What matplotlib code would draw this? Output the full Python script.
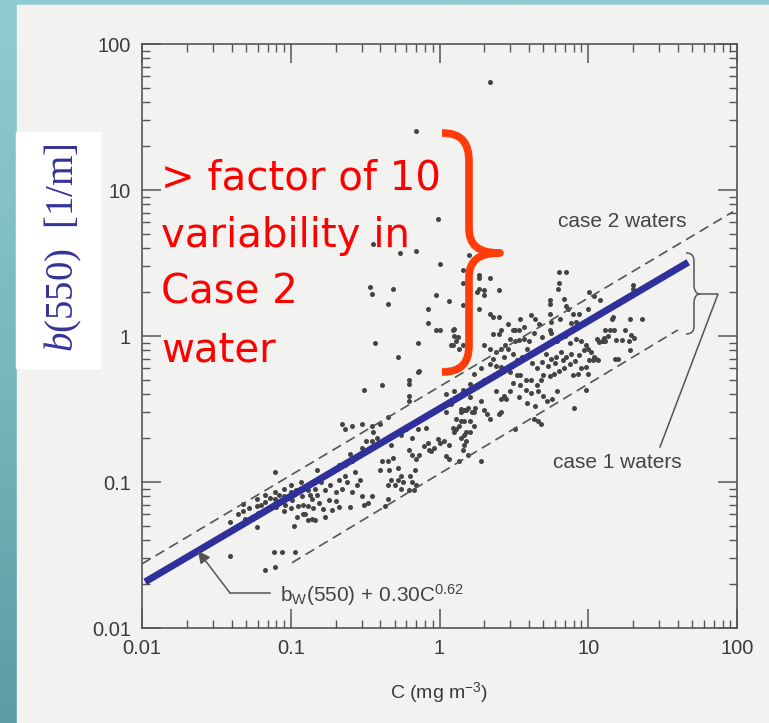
import numpy as np
import matplotlib
matplotlib.use("Agg")
import matplotlib.pyplot as plt
from matplotlib.path import Path
from matplotlib.patches import PathPatch, Rectangle
from matplotlib.colors import LinearSegmentedColormap
from matplotlib.ticker import LogLocator, NullFormatter

plt.rcParams['font.family'] = 'Liberation Sans'
plt.rcParams['mathtext.fontset'] = 'custom'
plt.rcParams['mathtext.it'] = 'Liberation Serif:italic'
plt.rcParams['mathtext.rm'] = 'Liberation Serif'

# ---- data: (C [mg m-3], b(550) [1/m]) ----
low_chl_pts = [
    (0.029, 0.039), (0.039, 0.031), (0.059, 0.049), (0.067, 0.025), (0.078, 0.026),
    (0.077, 0.033), (0.087, 0.033), (0.106, 0.033), (0.078, 0.117),
    (0.039, 0.053), (0.040, 0.048), (0.048, 0.071), (0.048, 0.063), (0.049, 0.056),
    (0.059, 0.076), (0.059, 0.068), (0.060, 0.061), (0.067, 0.082), (0.067, 0.073),
    (0.068, 0.064), (0.078, 0.086), (0.078, 0.076), (0.079, 0.067), (0.090, 0.089),
    (0.090, 0.080), (0.091, 0.070), (0.090, 0.063), (0.100, 0.095), (0.100, 0.085),
    (0.102, 0.075), (0.101, 0.066), (0.118, 0.100), (0.120, 0.090), (0.119, 0.080),
    (0.121, 0.070), (0.120, 0.060), (0.140, 0.076), (0.141, 0.066), (0.140, 0.056),
    (0.110, 0.058), (0.130, 0.055), (0.105, 0.050), (0.145, 0.055), (0.170, 0.058),
    (0.130, 0.069), (0.125, 0.060), (0.160, 0.100), (0.170, 0.088), (0.145, 0.090),
    (0.130, 0.088), (0.190, 0.117), (0.150, 0.082),
    (0.044, 0.060), (0.052, 0.066), (0.055, 0.058), (0.063, 0.070), (0.072, 0.078),
    (0.084, 0.082), (0.095, 0.078), (0.108, 0.088), (0.112, 0.068), (0.135, 0.082),
    (0.155, 0.072), (0.165, 0.065), (0.180, 0.075), (0.185, 0.095), (0.200, 0.085),
    (0.220, 0.090), (0.240, 0.100), (0.260, 0.085), (0.280, 0.095), (0.170, 0.110),
    (0.150, 0.120), (0.210, 0.130),
]
mid_chl_pts = [
    (0.31, 0.43), (0.41, 0.46), (0.72, 0.57), (0.62, 0.39), (0.62, 0.36),
    (0.22, 0.25), (0.23, 0.23), (0.26, 0.24), (0.30, 0.25), (0.35, 0.24),
    (0.36, 0.22), (0.40, 0.25), (0.45, 0.28), (0.38, 0.20), (0.32, 0.19),
    (0.30, 0.17), (0.35, 0.19), (0.25, 0.155), (0.26, 0.14), (0.23, 0.13),
    (0.21, 0.104), (0.23, 0.11), (0.27, 0.117), (0.29, 0.104), (0.20, 0.074),
    (0.21, 0.067), (0.19, 0.064), (0.25, 0.067), (0.30, 0.08), (0.35, 0.08),
    (0.31, 0.07), (0.33, 0.072), (0.43, 0.069), (0.45, 0.077),
    (0.41, 0.14), (0.45, 0.14), (0.49, 0.146), (0.40, 0.12), (0.46, 0.12),
    (0.53, 0.125), (0.55, 0.11), (0.63, 0.11), (0.68, 0.12), (0.47, 0.104),
    (0.53, 0.104), (0.57, 0.10), (0.65, 0.10), (0.45, 0.096), (0.50, 0.095),
    (0.55, 0.09), (0.62, 0.088), (0.70, 0.095), (0.67, 0.088),
    (0.62, 0.166), (0.65, 0.152), (0.70, 0.143), (0.73, 0.154), (0.79, 0.177),
    (0.84, 0.186), (0.85, 0.166), (0.88, 0.164), (0.92, 0.17), (0.98, 0.196),
    (1.00, 0.186), (1.07, 0.19), (1.15, 0.18), (1.15, 0.143), (1.10, 0.15),
    (0.60, 0.23), (0.72, 0.23), (0.81, 0.235), (0.65, 0.20), (0.55, 0.21),
    (0.47, 0.18),
    (1.24, 0.236), (1.30, 0.23), (1.40, 0.26), (1.45, 0.26), (1.60, 0.26),
    (1.70, 0.24), (1.50, 0.22), (1.60, 0.22), (1.45, 0.21), (1.50, 0.19),
    (1.10, 0.40), (1.26, 0.42), (1.44, 0.43), (1.60, 0.47),
    (1.40, 0.316), (1.45, 0.31), (1.55, 0.32), (1.70, 0.30), (1.72, 0.32),
    (1.35, 0.14), (1.44, 0.166), (1.55, 0.154), (1.90, 0.14),
    (1.70, 0.55), (1.90, 0.60), (1.80, 0.45), (2.00, 0.50), (1.60, 0.38),
    (1.90, 0.36), (1.10, 0.30), (1.20, 0.34),
]
high_chl_pts = [
    (2.4, 0.42), (2.7, 0.39), (2.8, 0.37), (2.6, 0.37), (3.1, 0.48), (3.5, 0.46),
    (3.8, 0.43), (4.1, 0.41), (4.6, 0.42), (5.0, 0.39), (5.3, 0.36), (5.7, 0.37),
    (6.2, 0.42), (8.0, 0.32), (2.1, 0.29), (2.2, 0.27), (2.0, 0.31), (1.65, 0.30),
    (1.5, 0.31), (1.4, 0.30), (1.3, 0.27), (1.35, 0.24), (1.26, 0.22), (1.4, 0.20),
    (1.45, 0.18), (2.5, 0.29), (2.6, 0.30), (4.3, 0.27), (4.6, 0.26), (4.8, 0.25),
    (3.2, 0.23),
    (2.2, 0.64), (2.4, 0.62), (2.6, 0.61), (2.8, 0.59), (3.0, 0.57), (3.3, 0.54),
    (3.5, 0.54), (3.8, 0.50), (4.1, 0.50), (4.5, 0.46), (4.8, 0.50), (5.0, 0.54),
    (5.5, 0.53), (5.9, 0.55), (6.4, 0.58), (6.9, 0.60), (7.9, 0.54), (8.5, 0.55),
    (8.9, 0.60), (9.6, 0.61),
    (2.0, 0.87), (2.2, 0.82), (2.4, 0.78), (2.6, 0.82), (2.75, 0.87), (2.9, 0.82),
    (3.0, 0.96), (3.2, 0.92), (3.4, 0.94), (3.7, 0.96), (4.0, 0.92), (3.9, 0.82),
    (4.4, 0.78), (4.8, 0.82), (5.2, 0.75), (5.6, 0.70), (6.1, 0.72), (6.6, 0.78),
    (7.1, 0.72), (7.7, 0.75), (8.1, 0.67), (8.7, 0.74), (9.4, 0.80), (10.1, 0.69),
    (11.0, 0.72), (8.3, 0.96), (8.9, 0.92), (9.6, 0.87),
    (2.3, 0.70), (2.7, 0.72), (3.1, 0.75), (3.3, 0.68), (3.6, 0.72), (4.2, 0.65),
    (4.5, 0.60), (4.9, 0.66), (5.4, 0.62), (6.0, 0.65), (6.8, 0.68), (7.5, 0.64),
    (3.0, 0.42), (3.4, 0.38), (3.9, 0.35), (4.4, 0.33), (2.9, 1.20), (3.7, 1.15),
    (4.3, 1.05), (4.9, 0.98), (6.2, 0.92), (7.0, 1.00), (7.5, 0.90), (6.5, 1.30),
    (6.4, 2.76), (7.1, 2.76), (6.4, 2.3), (6.3, 2.1), (5.5, 1.77), (5.5, 1.65),
    (6.9, 1.8), (7.1, 1.6), (2.2, 1.42), (2.3, 1.36), (2.5, 1.36), (1.24, 1.1),
    (1.3, 0.92), (1.25, 1.0), (1.2, 0.87), (1.44, 0.87), (2.6, 1.1), (2.5, 1.03),
    (3.5, 1.3), (3.4, 1.1), (3.1, 1.1), (4.1, 1.4), (4.4, 1.3), (4.7, 1.2),
    (5.5, 1.42), (5.6, 1.25), (5.5, 1.1), (5.6, 1.05), (7.3, 1.53), (7.9, 1.42),
    (8.3, 1.25), (8.7, 1.42), (7.7, 1.22), (10.1, 2.0), (11.0, 1.87), (12.0, 1.76),
    (14.5, 1.3), (13.0, 1.1), (15.0, 1.1), (11.5, 0.96), (12.5, 0.92), (13.0, 0.93),
    (15.8, 0.70),
    (20.0, 2.24), (20.0, 2.1), (10.0, 1.52), (14.6, 1.34), (19.0, 1.3), (23.0, 1.3),
    (14.0, 1.1), (13.5, 1.0), (12.8, 0.97), (12.3, 0.93), (11.8, 0.91), (15.4, 0.94),
    (16.8, 0.94), (17.7, 1.1), (18.8, 0.93), (19.5, 1.02), (20.4, 0.97), (19.0, 0.8),
    (15.2, 0.70), (10.0, 0.82), (10.5, 0.78), (10.8, 0.69), (11.3, 0.70), (11.7, 0.68),
    (10.0, 0.55), (9.6, 0.43),
]
outlier_pts = [
    (2.2, 55.0), (0.70, 25.5), (0.98, 6.3), (0.36, 4.3), (0.54, 3.7), (0.69, 3.8),
    (1.0, 3.1), (1.57, 3.6), (1.44, 2.85), (1.44, 2.3), (1.83, 2.6), (2.2, 2.5),
    (1.8, 2.0), (2.0, 2.05), (2.5, 2.06), (0.34, 2.15), (0.35, 1.93), (0.49, 2.1),
    (0.45, 1.66), (0.94, 1.9), (1.15, 1.75), (1.44, 1.64), (0.84, 1.52), (1.85, 1.52),
    (0.84, 1.23), (0.95, 1.1), (1.0, 1.1), (1.26, 1.11), (1.34, 0.98), (2.3, 1.03),
    (3.2, 1.1), (0.37, 0.90), (0.53, 0.72), (0.72, 0.90), (0.73, 0.58), (0.62, 0.50),
    (0.62, 0.47), (1.24, 0.87), (1.35, 0.82), (1.83, 2.5), (1.85, 2.1), (2.0, 1.9),
]

model_chl = [0.0105, 47.0]      # b_w(550) + 0.30 C^0.62
model_b = [0.0207, 3.2]
case2_chl = [0.01, 94.0]        # upper dashed bound
case2_b = [0.0275, 7.1]
case1_chl = [0.102, 40.0]       # lower dashed bound
case1_b = [0.028, 1.1]

tick_vals = [0.01, 0.1, 1, 10, 100]
tick_labels = ['0.01', '0.1', '1', '10', '100']
note_lines = ['> factor of 10', 'variability in', 'Case 2', 'water']

W, H = 769, 723
fig = plt.figure(figsize=(W / 100, H / 100), dpi=100)

# background: teal slide + scanned paper
bg = fig.add_axes([0, 0, 1, 1], zorder=0)
teal = LinearSegmentedColormap.from_list('teal', ['#90ccd1', '#78b9be', '#5a9ca1'])
bg.imshow(np.linspace(0, 1, 256).reshape(-1, 1), aspect='auto', cmap=teal,
          extent=[0, W, H, 0])
bg.add_patch(Rectangle((17, 5), W - 17, H - 5, color='#f2f2f0'))
bg.add_patch(Rectangle((16, 132), 84, 236, color='white'))
bg.set_xlim(0, W)
bg.set_ylim(H, 0)
bg.axis('off')

# the chart itself
ax = fig.add_axes([142 / W, 1 - 628 / H, 595 / W, 584 / H], zorder=1)
ax.patch.set_alpha(0)
ax.set_xscale('log')
ax.set_yscale('log')

pts = np.array(low_chl_pts + mid_chl_pts + high_chl_pts + outlier_pts)
ax.scatter(pts[:, 0], pts[:, 1], s=13, color='#444444', linewidths=0, zorder=2)
ax.plot(case2_chl, case2_b, color='#555555', lw=1.2, dashes=(6, 3.5), zorder=3)
ax.plot(case1_chl, case1_b, color='#555555', lw=1.2, dashes=(6, 3.5), zorder=3)
ax.plot(model_chl, model_b, color='#30309c', lw=5, solid_capstyle='butt', zorder=4)

ax.set_xlim(0.01, 100)
ax.set_ylim(0.01, 100)
ax.set_xticks(tick_vals, tick_labels)
ax.set_yticks(tick_vals, tick_labels)
for axis in (ax.xaxis, ax.yaxis):
    axis.set_minor_locator(LogLocator(base=10, subs=np.arange(2, 10), numticks=20))
    axis.set_minor_formatter(NullFormatter())
ax.tick_params(which='both', direction='in', top=True, right=True, color='#555555',
               labelcolor='#3a3a3a')
ax.tick_params(which='major', length=14, width=1.1, labelsize=14.5, pad=8)
ax.tick_params(which='minor', length=6, width=1.0)
for sp in ax.spines.values():
    sp.set_color('#555555')
    sp.set_linewidth(1.2)
ax.set_xlabel(r'C (mg m$^{\mathregular{-3}}$)', fontsize=14, color='#3a3a3a',
              labelpad=16)

# overlay in pixel coordinates for the annotations
ov = fig.add_axes([0, 0, 1, 1], zorder=3)
ov.set_xlim(0, W)
ov.set_ylim(H, 0)
ov.axis('off')

ov.text(63, 248, r'$b$(550)  [1/m]', rotation=90, ha='center', va='center',
        fontsize=28, family='Liberation Serif', color='#333399')

for i, line in enumerate(note_lines):
    ov.text(161, 190 + 57 * i, line, fontsize=29, family='DejaVu Sans',
            color='#ff0000', va='baseline', ha='left')

brace = Path(
    [(442, 133), (462, 133), (469, 143), (469, 162), (469, 228),
     (469, 245), (478, 253), (500, 253),
     (478, 253), (469, 261), (469, 278), (469, 345),
     (469, 362), (462, 372), (442, 372)],
    [Path.MOVETO, Path.CURVE4, Path.CURVE4, Path.CURVE4, Path.LINETO,
     Path.CURVE4, Path.CURVE4, Path.CURVE4,
     Path.CURVE4, Path.CURVE4, Path.CURVE4, Path.LINETO,
     Path.CURVE4, Path.CURVE4, Path.CURVE4])
ov.add_patch(PathPatch(brace, fill=False, edgecolor='#ff3c0a', lw=5.5,
                       capstyle='butt', joinstyle='round'))

small = Path(
    [(686, 253), (692, 253), (694, 256), (694, 262), (694, 285),
     (694, 290), (696, 294), (700, 294),
     (696, 294), (694, 298), (694, 303), (694, 326),
     (694, 331), (692, 334), (686, 334)],
    [Path.MOVETO, Path.CURVE4, Path.CURVE4, Path.CURVE4, Path.LINETO,
     Path.CURVE4, Path.CURVE4, Path.CURVE4,
     Path.CURVE4, Path.CURVE4, Path.CURVE4, Path.LINETO,
     Path.CURVE4, Path.CURVE4, Path.CURVE4])
ov.add_patch(PathPatch(small, fill=False, edgecolor='#555555', lw=1.1))
ov.plot([700, 718, 660], [294, 294, 447], color='#555555', lw=1.1)

ov.plot([270, 230], [593, 593], color='#555555', lw=1.1)
ov.annotate('', xy=(198, 551), xytext=(230, 593),
            arrowprops=dict(arrowstyle='-|>', color='#555555', lw=1.1,
                            mutation_scale=18, shrinkA=0, shrinkB=0))

ov.text(622, 227, 'case 2 waters', fontsize=15, color='#444444', ha='center',
        va='baseline')
ov.text(617, 468, 'case 1 waters', fontsize=15, color='#444444', ha='center',
        va='baseline')
ov.text(280, 602, r'b$_{\mathregular{W}}$(550) + 0.30C$^{\mathregular{0.62}}$',
        fontsize=15, color='#444444', ha='left', va='baseline')

fig.savefig('out.png', dpi=100)
